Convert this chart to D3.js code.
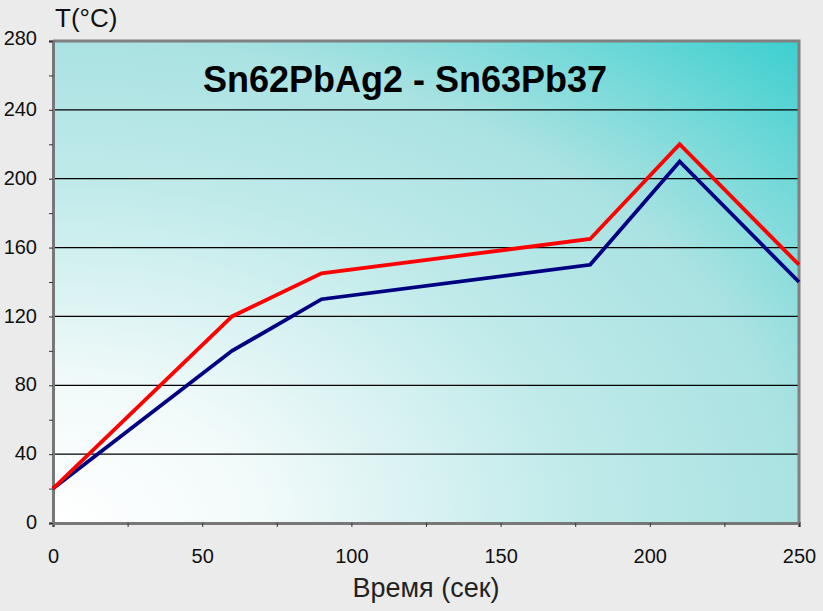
<!DOCTYPE html>
<html>
<head>
<meta charset="utf-8">
<script src="https://cdn.jsdelivr.net/npm/d3@7"></script>
<style>
  html, body { margin: 0; padding: 0; background: #ebebeb; }
  svg { display: block; }
</style>
</head>
<body>
<div id="chart"></div>
<script>
// Time points (s) and temperatures (°C) for both profiles.
const times = [0, 60, 90, 180, 210, 250];
const sn62 = [20, 120, 145, 165, 220, 150];
const sn63 = [20, 100, 130, 150, 210, 140];

const xTicks = [0, 50, 100, 150, 200, 250];
const yTicks = [0, 40, 80, 120, 160, 200, 240, 280];

const title = 'Sn62PbAg2 - Sn63Pb37';
const xLabel = 'Время (сек)';
const yLabel = 'T(°C)';

const width = 823, height = 611;
const margin = {top: 41, right: 24, bottom: 88, left: 53};
const font = 'Arial, "Liberation Sans", sans-serif';

const svg = d3.select('#chart')
  .append('svg')
    .attr('width', width)
    .attr('height', height);

const x = d3.scaleLinear()
  .domain([0, 250])
  .range([margin.left, width - margin.right]);

const y = d3.scaleLinear()
  .domain([0, 280])
  .range([height - margin.bottom, margin.top]);

// Background: light from the bottom-left corner, teal towards top-right.
const grad = svg.append('defs')
  .append('radialGradient')
    .attr('id', 'bg')
    .attr('cx', 0).attr('cy', 1)
    .attr('fx', 0).attr('fy', 1)
    .attr('r', 1.414);
grad.append('stop').attr('offset', '0%').attr('stop-color', '#ffffff');
grad.append('stop').attr('offset', '20%').attr('stop-color', '#f2fafa');
grad.append('stop').attr('offset', '50%').attr('stop-color', '#c0eaea');
grad.append('stop').attr('offset', '71%').attr('stop-color', '#aae2e2');
grad.append('stop').attr('offset', '100%').attr('stop-color', '#3ccfcf');

svg.append('rect')
  .attr('x', x(0))
  .attr('y', y(280))
  .attr('width', x(250) - x(0))
  .attr('height', y(0) - y(280))
  .attr('fill', 'url(#bg)');

// Horizontal grid lines.
svg.append('g')
  .selectAll('line')
  .data(yTicks.filter(d => d > 0 && d < 280))
  .join('line')
    .attr('x1', x(0))
    .attr('x2', x(250))
    .attr('y1', d => y(d))
    .attr('y2', d => y(d))
    .attr('stroke', '#000')
    .attr('stroke-width', 1.2);

// Frame: top and right edges.
svg.append('path')
  .attr('d', `M${x(0)},${y(280)}H${x(250)}V${y(0)}`)
  .attr('fill', 'none')
  .attr('stroke', '#808080')
  .attr('stroke-width', 3);

// Axes
const xAxis = d3.axisBottom(x)
  .tickValues(d3.range(0, 251, 25))
  .tickSize(4)
  .tickFormat(d => xTicks.includes(d) ? d : '');

const yAxis = d3.axisLeft(y)
  .tickValues(d3.range(0, 281, 20))
  .tickSize(4)
  .tickFormat(d => yTicks.includes(d) ? d : '');

const xg = svg.append('g')
  .attr('transform', `translate(0, ${y(0)})`)
  .call(xAxis);

const yg = svg.append('g')
  .attr('transform', `translate(${x(0)}, 0)`)
  .call(yAxis);

for (const g of [xg, yg]) {
  g.select('.domain')
    .attr('stroke', '#777')
    .attr('stroke-width', 3);
  g.selectAll('.tick line')
    .attr('stroke', '#333');
  g.selectAll('.tick text')
    .attr('font-family', font)
    .attr('font-size', '20px')
    .attr('fill', '#111');
}

xg.selectAll('.tick text').attr('dy', '1.1em').attr('y', 18);
yg.selectAll('.tick text').attr('x', -16).attr('dy', '0.28em');
yg.select('.tick:last-of-type text').attr('dy', '0.18em');

// Lines
const line = d3.line()
  .x((d, i) => x(times[i]))
  .y(d => y(d));

svg.append('path')
  .datum(sn63)
  .attr('d', line)
  .attr('fill', 'none')
  .attr('stroke', '#000080')
  .attr('stroke-width', 3.8)
  .attr('stroke-linejoin', 'miter');

svg.append('path')
  .datum(sn62)
  .attr('d', line)
  .attr('fill', 'none')
  .attr('stroke', '#ff0000')
  .attr('stroke-width', 3.8)
  .attr('stroke-linejoin', 'miter');

// Texts
svg.append('text')
  .attr('x', 405)
  .attr('y', 92)
  .attr('text-anchor', 'middle')
  .attr('font-family', font)
  .attr('font-weight', 'bold')
  .attr('font-size', '36px')
  .attr('fill', '#000')
  .text(title);

svg.append('text')
  .attr('x', (x(0) + x(250)) / 2)
  .attr('y', 597)
  .attr('text-anchor', 'middle')
  .attr('font-family', font)
  .attr('font-size', '27px')
  .attr('fill', '#222')
  .text(xLabel);

svg.append('text')
  .attr('x', 55)
  .attr('y', 27)
  .attr('font-family', font)
  .attr('font-size', '26px')
  .attr('fill', '#111')
  .text(yLabel);
</script>
</body>
</html>
